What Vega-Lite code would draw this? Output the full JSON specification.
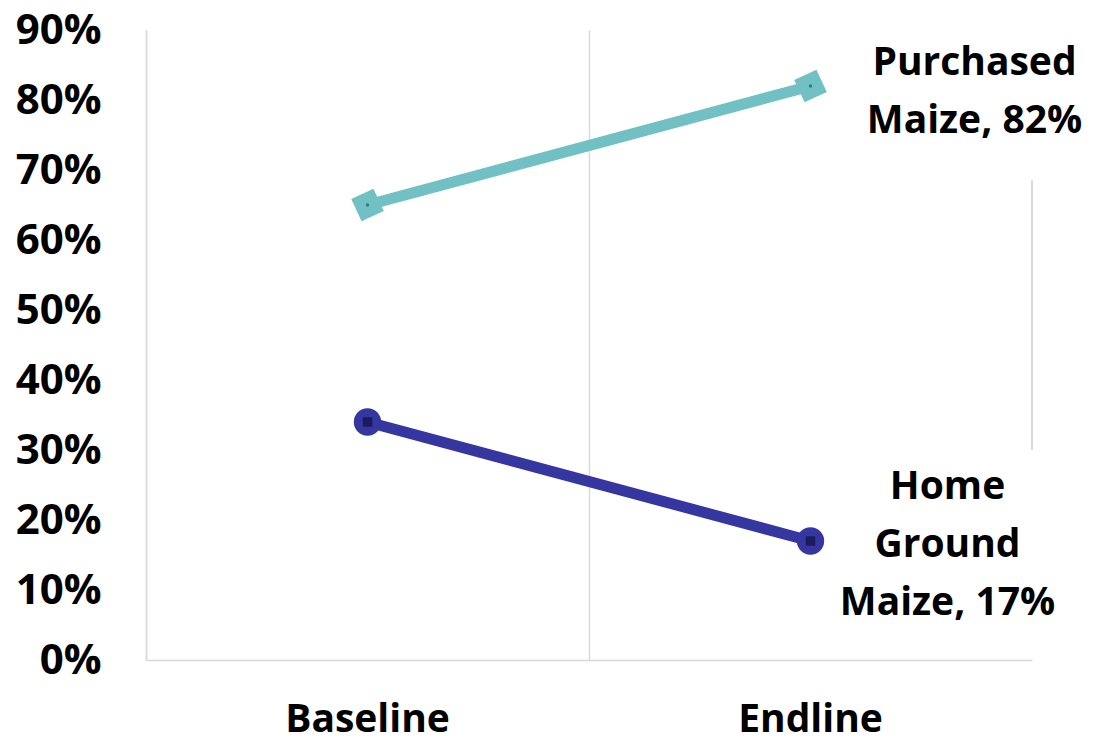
{
  "$schema": "https://vega.github.io/schema/vega-lite/v6.json",
  "width": 886,
  "height": 630,
  "autosize": {"type": "none"},
  "padding": {"left": 146, "top": 30, "right": 62, "bottom": 83},
  "background": "white",
  "config": {"view": {"stroke": null}, "font": "Open Sans"},
  "data": {"values": [
    {"period": "Baseline", "series": "Purchased Maize", "value": 0.65, "label": ""},
    {"period": "Endline", "series": "Purchased Maize", "value": 0.82, "label": "Purchased\nMaize, 82%"},
    {"period": "Baseline", "series": "Home Ground Maize", "value": 0.34, "label": ""},
    {"period": "Endline", "series": "Home Ground Maize", "value": 0.17, "label": "Home\nGround\nMaize, 17%"}
  ]},
  "encoding": {
    "x": {"field": "period", "type": "nominal", "sort": ["Baseline", "Endline"],
      "scale": {"paddingInner": 0, "paddingOuter": 0},
      "axis": {"title": null, "labelAngle": 0, "labelFontSize": 39, "labelFontWeight": "bold", "labelColor": "black",
        "ticks": false, "labelPadding": 59, "labelBaseline": "middle", "domainColor": "#d9d9d9", "domainWidth": 1.5,
        "grid": true, "gridColor": "#d9d9d9", "gridWidth": 1.5, "bandPosition": 0}},
    "y": {"field": "value", "type": "quantitative",
      "scale": {"domain": [0, 0.9]},
      "axis": {"title": null, "format": ".0%", "values": [0,0.1,0.2,0.3,0.4,0.5,0.6,0.7,0.8,0.9],
        "labelFontSize": 42, "labelFontWeight": "bold", "labelColor": "black", "ticks": false, "labelPadding": 45,
        "grid": false, "domainColor": "#d9d9d9", "domainWidth": 1.5}},
    "color": {"field": "series", "type": "nominal",
      "scale": {"domain": ["Purchased Maize", "Home Ground Maize"], "range": ["#70c0c4", "#3636a0"]}, "legend": null}
  },
  "layer": [
    {"mark": {"type": "rule", "color": "#d9d9d9", "strokeWidth": 1.5},
      "encoding": {"x": {"datum": "Endline", "bandPosition": 1}, "y": {"datum": 0.3}, "y2": {"datum": 0.685}, "color": {"value": "#d9d9d9"}}},
    {"mark": {"type": "line", "strokeWidth": 11}, "encoding": {"detail": {"field": "series"}}},
    {"transform": [{"filter": "datum.series == 'Purchased Maize'"}],
      "mark": {"type": "point", "shape": "diamond", "filled": true, "size": 1200, "opacity": 1, "angle": 20}},
    {"transform": [{"filter": "datum.series == 'Home Ground Maize'"}],
      "mark": {"type": "point", "shape": "circle", "filled": true, "size": 750, "opacity": 1}},
    {"transform": [{"filter": "datum.series == 'Purchased Maize'"}],
      "mark": {"type": "point", "shape": "circle", "filled": true, "size": 12, "opacity": 1},
      "encoding": {"color": {"value": "#2e7f82"}}},
    {"transform": [{"filter": "datum.series == 'Home Ground Maize'"}],
      "mark": {"type": "point", "shape": "square", "filled": true, "size": 90, "opacity": 1},
      "encoding": {"color": {"value": "#1c1c5c"}}},
    {"transform": [{"filter": "datum.series == 'Purchased Maize' && datum.label != ''"}],
      "mark": {"type": "text", "fontSize": 39, "fontWeight": "bold", "align": "center", "baseline": "middle",
        "lineBreak": "\n", "lineHeight": 58, "dx": 164, "dy": -23},
      "encoding": {"text": {"field": "label"}, "color": {"value": "black"}}},
    {"transform": [{"filter": "datum.series == 'Home Ground Maize' && datum.label != ''"}],
      "mark": {"type": "text", "fontSize": 39, "fontWeight": "bold", "align": "center", "baseline": "middle",
        "lineBreak": "\n", "lineHeight": 58, "dx": 137, "dy": -54},
      "encoding": {"text": {"field": "label"}, "color": {"value": "black"}}}
  ]
}
